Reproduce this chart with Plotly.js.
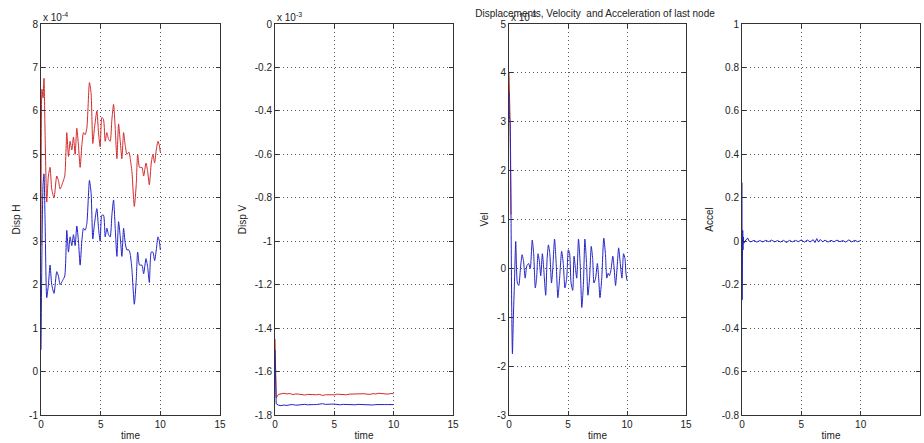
<!DOCTYPE html>
<html>
<head>
<meta charset="utf-8">
<script src="https://cdn.plot.ly/plotly-3.0.1.min.js"></script>
<style>html,body{margin:0;padding:0;background:#fff;}#chart{width:924px;height:443px;}</style>
</head>
<body>
<div id="chart"></div>
<script>
// ---------- Data (values in displayed units: H x1e-4, V x1e-3, Vel x1e-3) ----------
const tH = [0,0.08,0.17,0.25,0.34,0.48,0.62,0.76,0.9,1.09,1.32,1.46,1.6,1.82,1.99,2.16,2.3,2.44,2.58,2.72,2.86,3.0,3.14,3.28,3.42,3.56,3.7,3.84,4.06,4.2,4.34,4.48,4.68,4.82,4.96,5.1,5.24,5.38,5.52,5.66,5.8,5.94,6.08,6.22,6.36,6.5,6.64,6.78,6.92,7.06,7.2,7.37,7.48,7.62,7.82,7.98,8.1,8.26,8.46,8.6,8.8,8.94,9.08,9.24,9.38,9.52,9.66,9.8,9.92,10.0];
const dispHRed = [2.9,6.5,6.3,6.75,5.5,3.9,4.5,4.7,4.2,4.0,4.5,4.4,4.2,4.35,4.5,5.5,4.95,5.3,5.1,5.4,5.0,5.6,5.2,4.7,5.2,5.5,5.45,5.6,6.65,6.4,5.25,5.6,6.0,5.5,5.17,5.85,5.8,5.3,5.5,5.35,5.3,5.8,6.15,5.6,4.9,5.7,5.3,4.9,5.5,5.2,5.0,5.05,4.9,4.6,3.8,4.3,5.0,4.7,4.7,4.5,4.8,4.6,4.3,4.8,5.0,4.8,5.1,5.3,5.2,5.05];
const dispHBlue = [0.5,2.8,4.3,4.55,3.5,1.7,2.0,2.45,2.0,1.8,2.3,2.2,2.0,2.1,2.2,3.25,2.75,3.1,2.9,3.15,2.9,3.35,3.0,2.45,3.0,3.3,3.25,3.4,4.4,4.1,3.05,3.4,3.75,3.3,3.0,3.6,3.6,3.1,3.3,3.15,3.1,3.6,3.95,3.3,2.65,3.45,3.1,2.65,3.3,2.95,2.8,2.8,2.7,2.35,1.55,2.1,2.75,2.45,2.45,2.25,2.6,2.4,2.05,2.75,2.75,2.55,2.8,3.1,3.0,2.8];

const tV = [0,0.05,0.1,0.3,0.5,0.75,1.0,1.25,1.5,1.75,2.0,2.25,2.5,2.75,3.0,3.25,3.5,3.75,4.0,4.25,4.5,4.75,5.0,5.25,5.5,5.75,6.0,6.25,6.5,6.75,7.0,7.25,7.5,7.75,8.0,8.25,8.5,8.75,9.0,9.25,9.5,9.75,10.0];
const dispVRed = [-1.45,-1.69,-1.72,-1.705,-1.702,-1.700,-1.703,-1.701,-1.706,-1.703,-1.704,-1.707,-1.708,-1.705,-1.706,-1.709,-1.707,-1.705,-1.710,-1.707,-1.708,-1.706,-1.707,-1.704,-1.705,-1.708,-1.707,-1.704,-1.703,-1.705,-1.704,-1.701,-1.702,-1.704,-1.705,-1.702,-1.703,-1.700,-1.701,-1.703,-1.704,-1.701,-1.702];
const dispVBlue = [-1.50,-1.74,-1.748,-1.755,-1.757,-1.754,-1.756,-1.753,-1.752,-1.755,-1.754,-1.751,-1.751,-1.753,-1.754,-1.752,-1.752,-1.750,-1.748,-1.751,-1.752,-1.750,-1.750,-1.752,-1.753,-1.751,-1.752,-1.754,-1.755,-1.753,-1.751,-1.752,-1.753,-1.755,-1.756,-1.754,-1.752,-1.753,-1.754,-1.752,-1.752,-1.753,-1.752];

// red velocity is hidden under the blue one after the initial spike; only its visible start is kept
const tVelRed = [0,0.04,0.09,0.17];
const velRed = [4.0,3.6,3.05,1.1];
const tVel = [0,0.04,0.09,0.17,0.23,0.29,0.37,0.46,0.57,0.71,0.83,0.97,1.11,1.23,1.37,1.51,1.66,1.8,1.97,2.09,2.23,2.34,2.46,2.57,2.69,2.83,2.94,3.11,3.23,3.34,3.46,3.6,3.71,3.86,4.0,4.14,4.29,4.46,4.6,4.74,4.89,5.03,5.14,5.26,5.4,5.51,5.63,5.74,5.89,6.03,6.17,6.31,6.43,6.57,6.69,6.83,6.97,7.09,7.2,7.34,7.49,7.6,7.71,7.86,8.03,8.17,8.29,8.4,8.51,8.63,8.8,8.91,9.03,9.17,9.29,9.43,9.57,9.71,9.83,9.91,10.0];
const velBlue = [3.6,3.1,3.0,1.1,-0.8,-1.75,-1.0,-0.3,0.55,-0.3,-0.35,0.0,0.28,0.15,-0.2,0.05,0.1,0.0,0.58,0.3,-0.4,-0.2,0.3,0.15,-0.15,0.3,0.0,-0.55,0.2,0.48,0.3,-0.3,0.0,0.6,0.1,-0.6,-0.2,0.35,0.1,-0.4,-0.2,0.38,0.3,-0.3,-0.45,0.25,0.0,-0.2,0.6,0.1,-0.8,-0.3,0.6,0.1,-0.55,-0.2,0.45,0.2,-0.3,-0.2,0.1,-0.2,-0.6,-0.2,0.62,0.3,-0.2,-0.1,-0.15,-0.05,0.25,0.0,-0.35,0.05,0.42,0.1,-0.2,0.3,0.2,-0.1,-0.25];

const tAcc = [0,0.01,0.02,0.03,0.04,0.05,0.06,0.08,0.1,0.15,0.25,0.35,0.48,0.6,0.75,1.0,1.25,1.5,1.75,2.0,2.25,2.5,2.75,3.0,3.25,3.5,3.75,4.0,4.25,4.5,4.75,5.0,5.25,5.5,5.75,6.0,6.15,6.3,6.45,6.6,6.8,7.0,7.25,7.5,7.75,8.0,8.25,8.5,8.75,9.0,9.25,9.5,9.75,10.0];
const accBlue = [0.27,-0.27,0.2,-0.2,0.08,-0.12,0.05,-0.04,0.02,-0.01,0.0,0.005,0.015,0.0,-0.003,0.004,-0.004,0.003,-0.003,0.004,-0.002,0.005,-0.003,0.003,-0.004,0.004,-0.006,0.004,-0.003,0.004,-0.002,0.006,-0.004,0.005,-0.003,0.007,-0.006,0.012,-0.004,0.008,-0.003,0.005,-0.004,0.004,-0.003,0.005,-0.002,0.003,-0.004,0.006,-0.003,0.004,-0.002,0.003];

// tick labels
const xTicks = [0,5,10,15];
const xTickText = ['0','5','10','15'];
const y1Ticks = [-1,0,1,2,3,4,5,6,7,8];
const y1TickText = ['-1','0','1','2','3','4','5','6','7','8'];
const y2Ticks = [-1.8,-1.6,-1.4,-1.2,-1,-0.8,-0.6,-0.4,-0.2,0];
const y2TickText = ['-1.8','-1.6','-1.4','-1.2','-1','-0.8','-0.6','-0.4','-0.2','0'];
const y3Ticks = [-3,-2,-1,0,1,2,3,4,5];
const y3TickText = ['-3','-2','-1','0','1','2','3','4','5'];
const y4Ticks = [-0.8,-0.6,-0.4,-0.2,0,0.2,0.4,0.6,0.8,1];
const y4TickText = ['-0.8','-0.6','-0.4','-0.2','0','0.2','0.4','0.6','0.8','1'];
const yTitles = ['Disp H','Disp V','Vel','Accel'];
const exponents = ['x 10<sup>-4</sup>','x 10<sup>-3</sup>','x 10<sup>-3</sup>'];

// ---------- Styling ----------
const RED = '#d42a2a', BLUE = '#2323c8';
const FONT = 'Liberation Sans, Arial, sans-serif';
const W = 924;
const xDomains = [[41/W,220/W],[275/W,453/W],[509/W,686/W],[742/W,920/W]];

function line(x, y, color, n, shape) {
  return {x: x, y: y, type: 'scatter', mode: 'lines',
          line: {color: color, width: 1, shape: shape || 'linear', smoothing: 0.6},
          xaxis: n === 1 ? 'x' : 'x' + n, yaxis: n === 1 ? 'y' : 'y' + n, hoverinfo: 'skip'};
}
const traces = [
  line(tH, dispHRed, RED, 1, 'spline'), line(tH, dispHBlue, BLUE, 1, 'spline'),
  line(tV, dispVRed, RED, 2), line(tV, dispVBlue, BLUE, 2),
  line(tVelRed, velRed, RED, 3), line(tVel, velBlue, BLUE, 3, 'spline'),
  line(tAcc, accBlue, BLUE, 4)
];

const GRID = {showgrid: true, gridcolor: '#555', griddash: '1px,3px', gridwidth: 1, zeroline: false};
function xax(i) {
  return Object.assign({domain: xDomains[i], range: [0,15], tickmode: 'array', tickvals: xTicks, ticktext: xTickText,
    anchor: i === 0 ? 'y' : 'y' + (i+1),
    showline: true, linecolor: '#333', linewidth: 1, mirror: 'ticks', ticks: 'inside', ticklen: 4, tickcolor: '#333',
    tickfont: {family: FONT, size: 10, color: '#222'},
    title: {text: 'time', font: {family: FONT, size: 10, color: '#222'}, standoff: 2}}, GRID);
}
function yax(i, range, tv, tt) {
  return Object.assign({domain: [0,1], range: range, tickmode: 'array', tickvals: tv, ticktext: tt,
    anchor: i === 0 ? 'x' : 'x' + (i+1),
    showline: true, linecolor: '#333', linewidth: 1, mirror: 'ticks', ticks: 'inside', ticklen: 4, tickcolor: '#333',
    tickfont: {family: FONT, size: 10, color: '#222'},
    title: {text: yTitles[i], font: {family: FONT, size: 10, color: '#222'}, standoff: 6}}, GRID);
}

const annotations = exponents.map((txt, i) => ({
  text: txt, xref: (i === 0 ? 'x' : 'x' + (i+1)) + ' domain', x: 0, xanchor: 'left',
  yref: 'paper', y: 1, yanchor: 'bottom', yshift: -1, showarrow: false,
  font: {family: FONT, size: 10, color: '#222'}
}));

const layout = {
  width: 924, height: 443,
  margin: {l: 0, r: 0, t: 24, b: 28},
  paper_bgcolor: '#fff', plot_bgcolor: '#fff',
  showlegend: false,
  title: {text: 'Displacements, Velocity\u00a0 and Acceleration of last node', x: 595/W, xanchor: 'center',
          xref: 'paper', yref: 'container', y: 1 - 13/443, yanchor: 'middle',
          font: {family: FONT, size: 10, color: '#222'}},
  xaxis: xax(0), xaxis2: xax(1), xaxis3: xax(2), xaxis4: xax(3),
  yaxis: yax(0, [-1,8], y1Ticks, y1TickText),
  yaxis2: yax(1, [-1.8,0], y2Ticks, y2TickText),
  yaxis3: yax(2, [-3,5], y3Ticks, y3TickText),
  yaxis4: yax(3, [-0.8,1], y4Ticks, y4TickText),
  annotations: annotations
};
Plotly.newPlot('chart', traces, layout, {staticPlot: true, displayModeBar: false});
</script>
</body>
</html>
